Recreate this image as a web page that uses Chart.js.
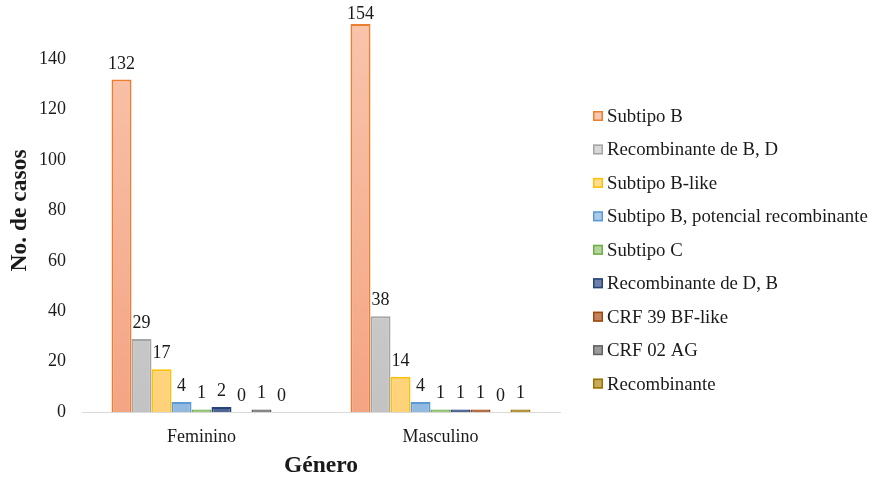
<!DOCTYPE html>
<html>
<head>
<meta charset="utf-8">
<script src="https://cdn.jsdelivr.net/npm/chart.js@4/dist/chart.umd.min.js"></script>
<style>
  html, body { margin: 0; padding: 0; background: #ffffff; }
  #wrap { width: 874px; height: 479px; position: relative; }
</style>
</head>
<body>
<div id="wrap"><canvas id="c" width="874" height="479"></canvas></div>
<script>
// Categories and per-subtype case counts
const categories = ['Feminino', 'Masculino'];
const seriesNames = [
  'Subtipo B',
  'Recombinante de B, D',
  'Subtipo B-like',
  'Subtipo B, potencial recombinante',
  'Subtipo C',
  'Recombinante de D, B',
  'CRF 39 BF-like',
  'CRF 02 AG',
  'Recombinante'
];
const subtipoB = [132, 154];
const recombinanteBD = [29, 38];
const subtipoBLike = [17, 14];
const subtipoBPotencial = [4, 4];
const subtipoC = [1, 1];
const recombinanteDB = [2, 1];
const crf39 = [0, 1];
const crf02 = [1, 0];
const recombinante = [0, 1];
const seriesValues = [subtipoB, recombinanteBD, subtipoBLike, subtipoBPotencial,
  subtipoC, recombinanteDB, crf39, crf02, recombinante];
const yTicks = [0, 20, 40, 60, 80, 100, 120, 140];

// Fill (top, bottom) and outline colours per series
const palette = [
  ['#f9c5ad', '#f4a483', '#ed7d31'],
  ['#d8d8d8', '#c3c3c3', '#a5a5a5'],
  ['#ffdd92', '#ffd27a', '#ffc000'],
  ['#abcaea', '#92b9df', '#5b9bd5'],
  ['#b2d69a', '#9cc97e', '#70ad47'],
  ['#6c80a9', '#4f6594', '#264478'],
  ['#c5815d', '#b36a44', '#9e480e'],
  ['#9b9b9b', '#858585', '#636363'],
  ['#caa95b', '#b8963f', '#997300']
];

const SERIF = "'Liberation Serif', 'Times New Roman', serif";
const PLOT_LEFT = 82, PLOT_RIGHT = 560, PLOT_BOTTOM = 412;

function verticalFill(i) {
  return function (ctx) {
    const area = ctx.chart.chartArea;
    if (!area) return palette[i][1];
    const g = ctx.chart.ctx.createLinearGradient(0, area.top, 0, area.bottom);
    g.addColorStop(0, palette[i][0]);
    g.addColorStop(1, palette[i][1]);
    return g;
  };
}

const datasets = seriesNames.map((name, i) => ({
  label: name,
  data: seriesValues[i],
  backgroundColor: verticalFill(i),
  borderColor: palette[i][2],
  borderWidth: 2,
  borderSkipped: 'start',
  categoryPercentage: 0.753,
  barPercentage: 1.0
}));

// Value labels above each bar, kept inside the canvas near the top
const valueLabels = {
  id: 'valueLabels',
  afterDatasetsDraw(chart) {
    const ctx = chart.ctx;
    ctx.save();
    ctx.font = '18px ' + SERIF;
    ctx.fillStyle = '#1a1a1a';
    ctx.textAlign = 'center';
    ctx.textBaseline = 'alphabetic';
    chart.data.datasets.forEach((ds, di) => {
      const meta = chart.getDatasetMeta(di);
      meta.data.forEach((bar, j) => {
        const y = Math.max(bar.y - 11, 19);
        ctx.fillText(String(ds.data[j]), bar.x, y);
      });
    });
    ctx.restore();
  }
};

// Vertical legend to the right of the plot
const sideLegend = {
  id: 'sideLegend',
  afterDraw(chart) {
    const ctx = chart.ctx;
    ctx.save();
    ctx.font = '18.8px ' + SERIF;
    ctx.textBaseline = 'middle';
    ctx.textAlign = 'left';
    const x0 = 593, step = 33.45, y0 = 116;
    seriesNames.forEach((name, i) => {
      const y = y0 + i * step;
      ctx.fillStyle = palette[i][0];
      ctx.fillRect(x0, y - 5, 10, 10);
      ctx.strokeStyle = palette[i][2];
      ctx.lineWidth = 1.5;
      ctx.strokeRect(x0 + 0.75, y - 4.25, 8.5, 8.5);
      ctx.fillStyle = '#1a1a1a';
      ctx.fillText(name, x0 + 14, y + 1);
    });
    ctx.restore();
  }
};

new Chart(document.getElementById('c'), {
  type: 'bar',
  data: { labels: categories, datasets: datasets },
  options: {
    responsive: false,
    animation: false,
    layout: { padding: { top: 9, right: 874 - PLOT_RIGHT, bottom: 0, left: 0 } },
    plugins: {
      legend: { display: false },
      tooltip: { enabled: false }
    },
    scales: {
      x: {
        grid: { display: false, drawTicks: false },
        border: { display: true, color: '#d9d9d9', width: 1 },
        ticks: { color: '#1a1a1a', font: { family: SERIF, size: 18 }, padding: 14 },
        title: {
          display: true, text: 'Género', color: '#1a1a1a',
          font: { family: SERIF, size: 23.5, weight: 'bold', lineHeight: 1 },
          padding: { top: 0, bottom: 1 }
        },
        afterFit(scale) {
          scale.height = 479 - PLOT_BOTTOM;
          scale.paddingLeft = 0; scale.paddingRight = 0;
        }
      },
      y: {
        min: 0, max: 160,
        grid: { display: false, drawTicks: false },
        border: { display: false },
        afterBuildTicks(scale) { scale.ticks = yTicks.map(v => ({ value: v })); },
        ticks: { color: '#1a1a1a', font: { family: SERIF, size: 18 }, padding: 16 },
        title: {
          display: true, text: 'No. de casos', color: '#1a1a1a',
          font: { family: SERIF, size: 23.5, weight: 'bold', lineHeight: 1 },
          padding: { top: 8, bottom: 0 }
        },
        afterFit(scale) {
          scale.width = PLOT_LEFT;
          scale.paddingTop = 0; scale.paddingBottom = 0;
        }
      }
    }
  },
  plugins: [valueLabels, sideLegend]
});
</script>
</body>
</html>
